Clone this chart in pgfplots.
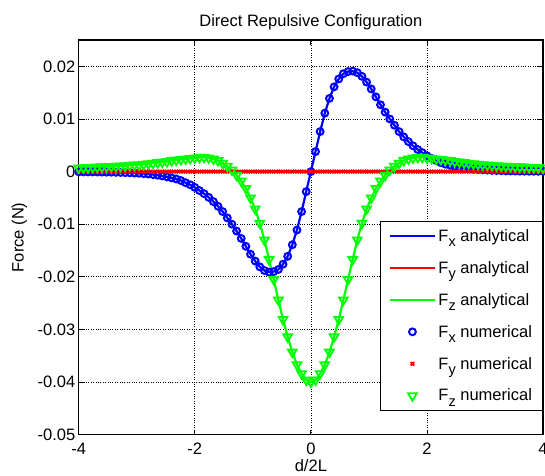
\documentclass[border=0pt]{standalone}
\usepackage{fontspec}
\setmainfont{Liberation Sans}
\usepackage{pgfplots}
\pgfplotsset{compat=1.18}
\usepackage{pgfplotstable}
\newcommand\fs{\fontsize{16.5}{19}\selectfont}
\newcommand\sub[1]{\raisebox{-0.6ex}{\fontsize{14.5}{14.5}\selectfont #1}}
\pgfplotsset{
  linelegend/.style={legend image code/.code={\draw[##1] (0pt,0pt) -- (45pt,0pt);}},
  marklegend/.style={legend image code/.code={\draw[##1] plot coordinates {(22.5pt,0pt)};}},
}

\pgfplotstableread{
x fx fy fz
-4.00 -0.00005 0 0.0007
-3.92 -0.00006 0 0.00074
-3.84 -0.00007 0 0.00078
-3.76 -0.00007 0 0.00082
-3.68 -0.00008 0 0.00086
-3.60 -0.00009 0 0.0009
-3.52 -0.00011 0 0.00094
-3.44 -0.00012 0 0.00098
-3.36 -0.00014 0 0.0010
-3.28 -0.00017 0 0.00105
-3.20 -0.0002 0 0.0011
-3.12 -0.00023 0 0.0012
-3.04 -0.00028 0 0.00125
-2.96 -0.00032 0 0.0013
-2.88 -0.00039 0 0.0014
-2.80 -0.00047 0 0.0015
-2.72 -0.00057 0 0.0016
-2.64 -0.00069 0 0.0017
-2.56 -0.00083 0 0.0018
-2.48 -0.0010 0 0.0019
-2.40 -0.0012 0 0.0021
-2.32 -0.0014 0 0.0022
-2.24 -0.0017 0 0.0023
-2.16 -0.0021 0 0.0024
-2.08 -0.0025 0 0.0025
-2.00 -0.0030 0 0.0026
-1.92 -0.0036 0 0.0027
-1.84 -0.0042 0 0.0027
-1.76 -0.0049 0 0.0026
-1.68 -0.0057 0 0.0024
-1.60 -0.0066 0 0.0021
-1.52 -0.0076 0 0.0016
-1.44 -0.0088 0 0.0010
-1.36 -0.0100 0 0.0003
-1.28 -0.0113 0 -0.0007
-1.20 -0.0127 0 -0.0018
-1.12 -0.0142 0 -0.0032
-1.04 -0.0157 0 -0.0050
-0.96 -0.0170 0 -0.0071
-0.88 -0.0181 0 -0.0098
-0.80 -0.0188 0 -0.0130
-0.72 -0.0191 0 -0.0167
-0.64 -0.0190 0 -0.0205
-0.56 -0.0186 0 -0.0244
-0.48 -0.0176 0 -0.0281
-0.40 -0.0161 0 -0.0314
-0.32 -0.0139 0 -0.0343
-0.24 -0.0111 0 -0.0367
-0.16 -0.0076 0 -0.0384
-0.08 -0.0038 0 -0.0396
0.00 0 0 -0.0400
0.08 0.0038 0 -0.0396
0.16 0.0076 0 -0.0384
0.24 0.0111 0 -0.0367
0.32 0.0139 0 -0.0343
0.40 0.0161 0 -0.0314
0.48 0.0176 0 -0.0281
0.56 0.0186 0 -0.0244
0.64 0.0190 0 -0.0205
0.72 0.0191 0 -0.0167
0.80 0.0188 0 -0.0130
0.88 0.0181 0 -0.0098
0.96 0.0170 0 -0.0071
1.04 0.0157 0 -0.0050
1.12 0.0142 0 -0.0032
1.20 0.0127 0 -0.0018
1.28 0.0113 0 -0.0007
1.36 0.0100 0 0.0003
1.44 0.0088 0 0.0010
1.52 0.0076 0 0.0016
1.60 0.0066 0 0.0021
1.68 0.0057 0 0.0024
1.76 0.0049 0 0.0026
1.84 0.0042 0 0.0027
1.92 0.0036 0 0.0027
2.00 0.0030 0 0.0026
2.08 0.0025 0 0.0025
2.16 0.0021 0 0.0024
2.24 0.0017 0 0.0023
2.32 0.0014 0 0.0022
2.40 0.0012 0 0.0021
2.48 0.0010 0 0.0019
2.56 0.00083 0 0.0018
2.64 0.00069 0 0.0017
2.72 0.00057 0 0.0016
2.80 0.00047 0 0.0015
2.88 0.00039 0 0.0014
2.96 0.00032 0 0.0013
3.04 0.00028 0 0.00125
3.12 0.00023 0 0.0012
3.20 0.0002 0 0.0011
3.28 0.00017 0 0.00105
3.36 0.00014 0 0.0010
3.44 0.00012 0 0.00098
3.52 0.00011 0 0.00094
3.60 0.00009 0 0.0009
3.68 0.00008 0 0.00086
3.76 0.00007 0 0.00082
3.84 0.00007 0 0.00078
3.92 0.00006 0 0.00074
4.00 0.00005 0 0.0007
}\data

\begin{document}
\begin{tikzpicture}
\begin{axis}[
  name=ax,
  width=464pt, height=394.5pt, scale only axis,
  xmin=-4, xmax=4, ymin=-0.05, ymax=0.025,
  scaled y ticks=false, scaled x ticks=false,
  xtick={-4,-2,0,2,4}, xticklabels={-4,-2,0,2,4},
  ytick={-0.05,-0.04,-0.03,-0.02,-0.01,0,0.01,0.02},
  yticklabels={-0.05,-0.04,-0.03,-0.02,-0.01,0,0.01,0.02},
  grid=major, grid style={black, dotted, line width=0.7pt},
  tick align=inside, major tick length=5pt,
  every tick/.style={black, line width=0.8pt},
  axis line style={black, line width=1.1pt},
  tick label style={font=\fs},
  xticklabel style={yshift=-5pt},
  label style={font=\fs},
  title style={font=\fs, at={(axis description cs:0.5,1.03)}, anchor=center},
  title={Direct Repulsive Configuration},
  xlabel={d/2L},
  xlabel style={at={(axis description cs:0.5,-0.078)}, anchor=center},
  ylabel={Force (N)},
  ylabel style={at={(axis description cs:-0.128,0.5)}, anchor=center},
  legend cell align=left,
  legend style={at={(axis description cs:1,0.06)}, anchor=south east,
    draw=black, line width=1.1pt, fill=white, font=\fs,
    inner xsep=8pt, inner ysep=6pt, row sep=14.5pt,
    nodes={inner xsep=2.5pt, inner ysep=2pt}},
]
\addlegendimage{linelegend, blue, line width=2pt}
\addlegendentry{F\sub{x} analytical}
\addlegendimage{linelegend, red, line width=2pt}
\addlegendentry{F\sub{y} analytical}
\addlegendimage{linelegend, green, line width=2pt}
\addlegendentry{F\sub{z} analytical}
\addlegendimage{marklegend, blue, only marks, mark=o, mark size=3.4pt, line width=2pt}
\addlegendentry{F\sub{x} numerical}
\addlegendimage{marklegend, red, only marks, mark=x, mark size=2.5pt, line width=1.8pt}
\addlegendentry{F\sub{y} numerical}
\addlegendimage{marklegend, green, only marks, mark=triangle, mark size=5pt, mark options={rotate=180}, line width=1.8pt}
\addlegendentry{F\sub{z} numerical}
\addplot[forget plot, blue, line width=2.2pt, no markers] table[x=x,y=fx]{\data};
\addplot[forget plot, red, line width=2.2pt, no markers] table[x=x,y=fy]{\data};
\addplot[forget plot, green, line width=2.2pt, no markers] table[x=x,y=fz]{\data};
\addplot[forget plot, blue, only marks, mark=o, mark size=3.4pt, line width=2pt] table[x=x,y=fx]{\data};
\addplot[forget plot, red, only marks, mark=x, mark size=2.5pt, line width=1.8pt] table[x=x,y=fy]{\data};
\addplot[forget plot, green, only marks, mark=triangle, mark size=5pt, mark options={rotate=180}, line width=1.8pt] table[x=x,y=fz]{\data};
\end{axis}
\pgfresetboundingbox
\path[use as bounding box] ([xshift=-78.7pt,yshift=-40.5pt]ax.south west) rectangle ([xshift=2pt,yshift=40pt]ax.north east);
\end{tikzpicture}
\end{document}
